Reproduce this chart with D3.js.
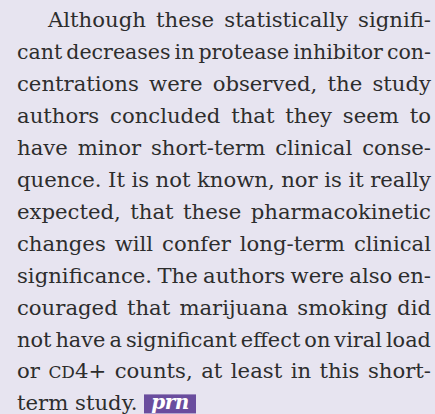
<!DOCTYPE html>
<html><head><meta charset="utf-8">
<script src="https://cdn.jsdelivr.net/npm/d3@7/dist/d3.min.js"></script>
<style>
html,body{margin:0;padding:0;background:#e7e4f0;}
svg{display:block;}
</style></head><body>
<script>
const lines = [
  "Although these statistically signifi-",
  "cant decreases in protease inhibitor con-",
  "centrations were observed, the study",
  "authors concluded that they seem to",
  "have minor short-term clinical conse-",
  "quence. It is not known, nor is it really",
  "expected, that these pharmacokinetic",
  "changes will confer long-term clinical",
  "significance. The authors were also en-",
  "couraged that marijuana smoking did",
  "not have a significant effect on viral load",
  "or CD4+ counts, at least in this short-",
  "term study."
];
const indents = [1,0,0,0,0,0,0,0,0,0,0,0,0];
const justified = [1,1,1,1,1,1,1,1,1,1,1,1,0];
const logoText = ["prn"];

const W = 435, H = 414;
const left = 17, right = 431, indentW = 31;
const firstBaseline = 27, lineStep = 31.95;
const fontSize = 21.2;
const font = "'DejaVu Serif', serif";
const minGap = 4;

const svg = d3.select("body").append("svg").attr("width", W).attr("height", H);
svg.append("rect").attr("width", W).attr("height", H).attr("fill", "#e7e4f0");

const y = d3.scaleLinear().domain([0, 1]).range([firstBaseline, firstBaseline + lineStep]);

const g = svg.append("g").attr("font-family", font).attr("font-size", fontSize).attr("fill", "#2d2d2d");

lines.forEach((ln, i) => {
  const words = ln.split(" ");
  const x0 = left + (indents[i] ? indentW : 0);
  const txts = words.map(w => {
    const t = g.append("text").attr("y", y(i));
    if (w.startsWith("CD")) {
      t.append("tspan").attr("font-size", fontSize * 0.8).text("CD");
      t.append("tspan").text(w.slice(2));
    } else {
      t.text(w);
    }
    return t;
  });
  let widths = txts.map(t => t.node().getComputedTextLength());
  const total = d3.sum(widths);
  const avail = right - x0;
  let gap = fontSize * 0.32;
  if (justified[i] && words.length > 1) {
    gap = (avail - total) / (words.length - 1);
    if (gap < minGap) {
      const k = (avail - minGap * (words.length - 1)) / total;
      widths = widths.map(w => w * k);
      txts.forEach((t, j) => t.attr("textLength", widths[j]).attr("lengthAdjust", "spacingAndGlyphs"));
      gap = minGap;
    }
  }
  let x = x0;
  txts.forEach((t, k) => { t.attr("x", x); x += widths[k] + gap; });
  if (i === lines.length - 1) {
    const bx = 144, by = y(i) - 16;
    const lg = svg.append("g");
    lg.append("rect").attr("x", bx).attr("y", by).attr("width", 52).attr("height", 19).attr("fill", "#6a4d9e");
    lg.append("text").attr("x", bx + 26).attr("y", by + 14.5).attr("text-anchor", "middle")
      .attr("font-family", font).attr("font-style", "italic").attr("font-weight", "bold")
      .attr("font-size", 20).attr("fill", "#ffffff").attr("letter-spacing", -0.5).text(logoText[0]);
  }
});
</script>
</body></html>
